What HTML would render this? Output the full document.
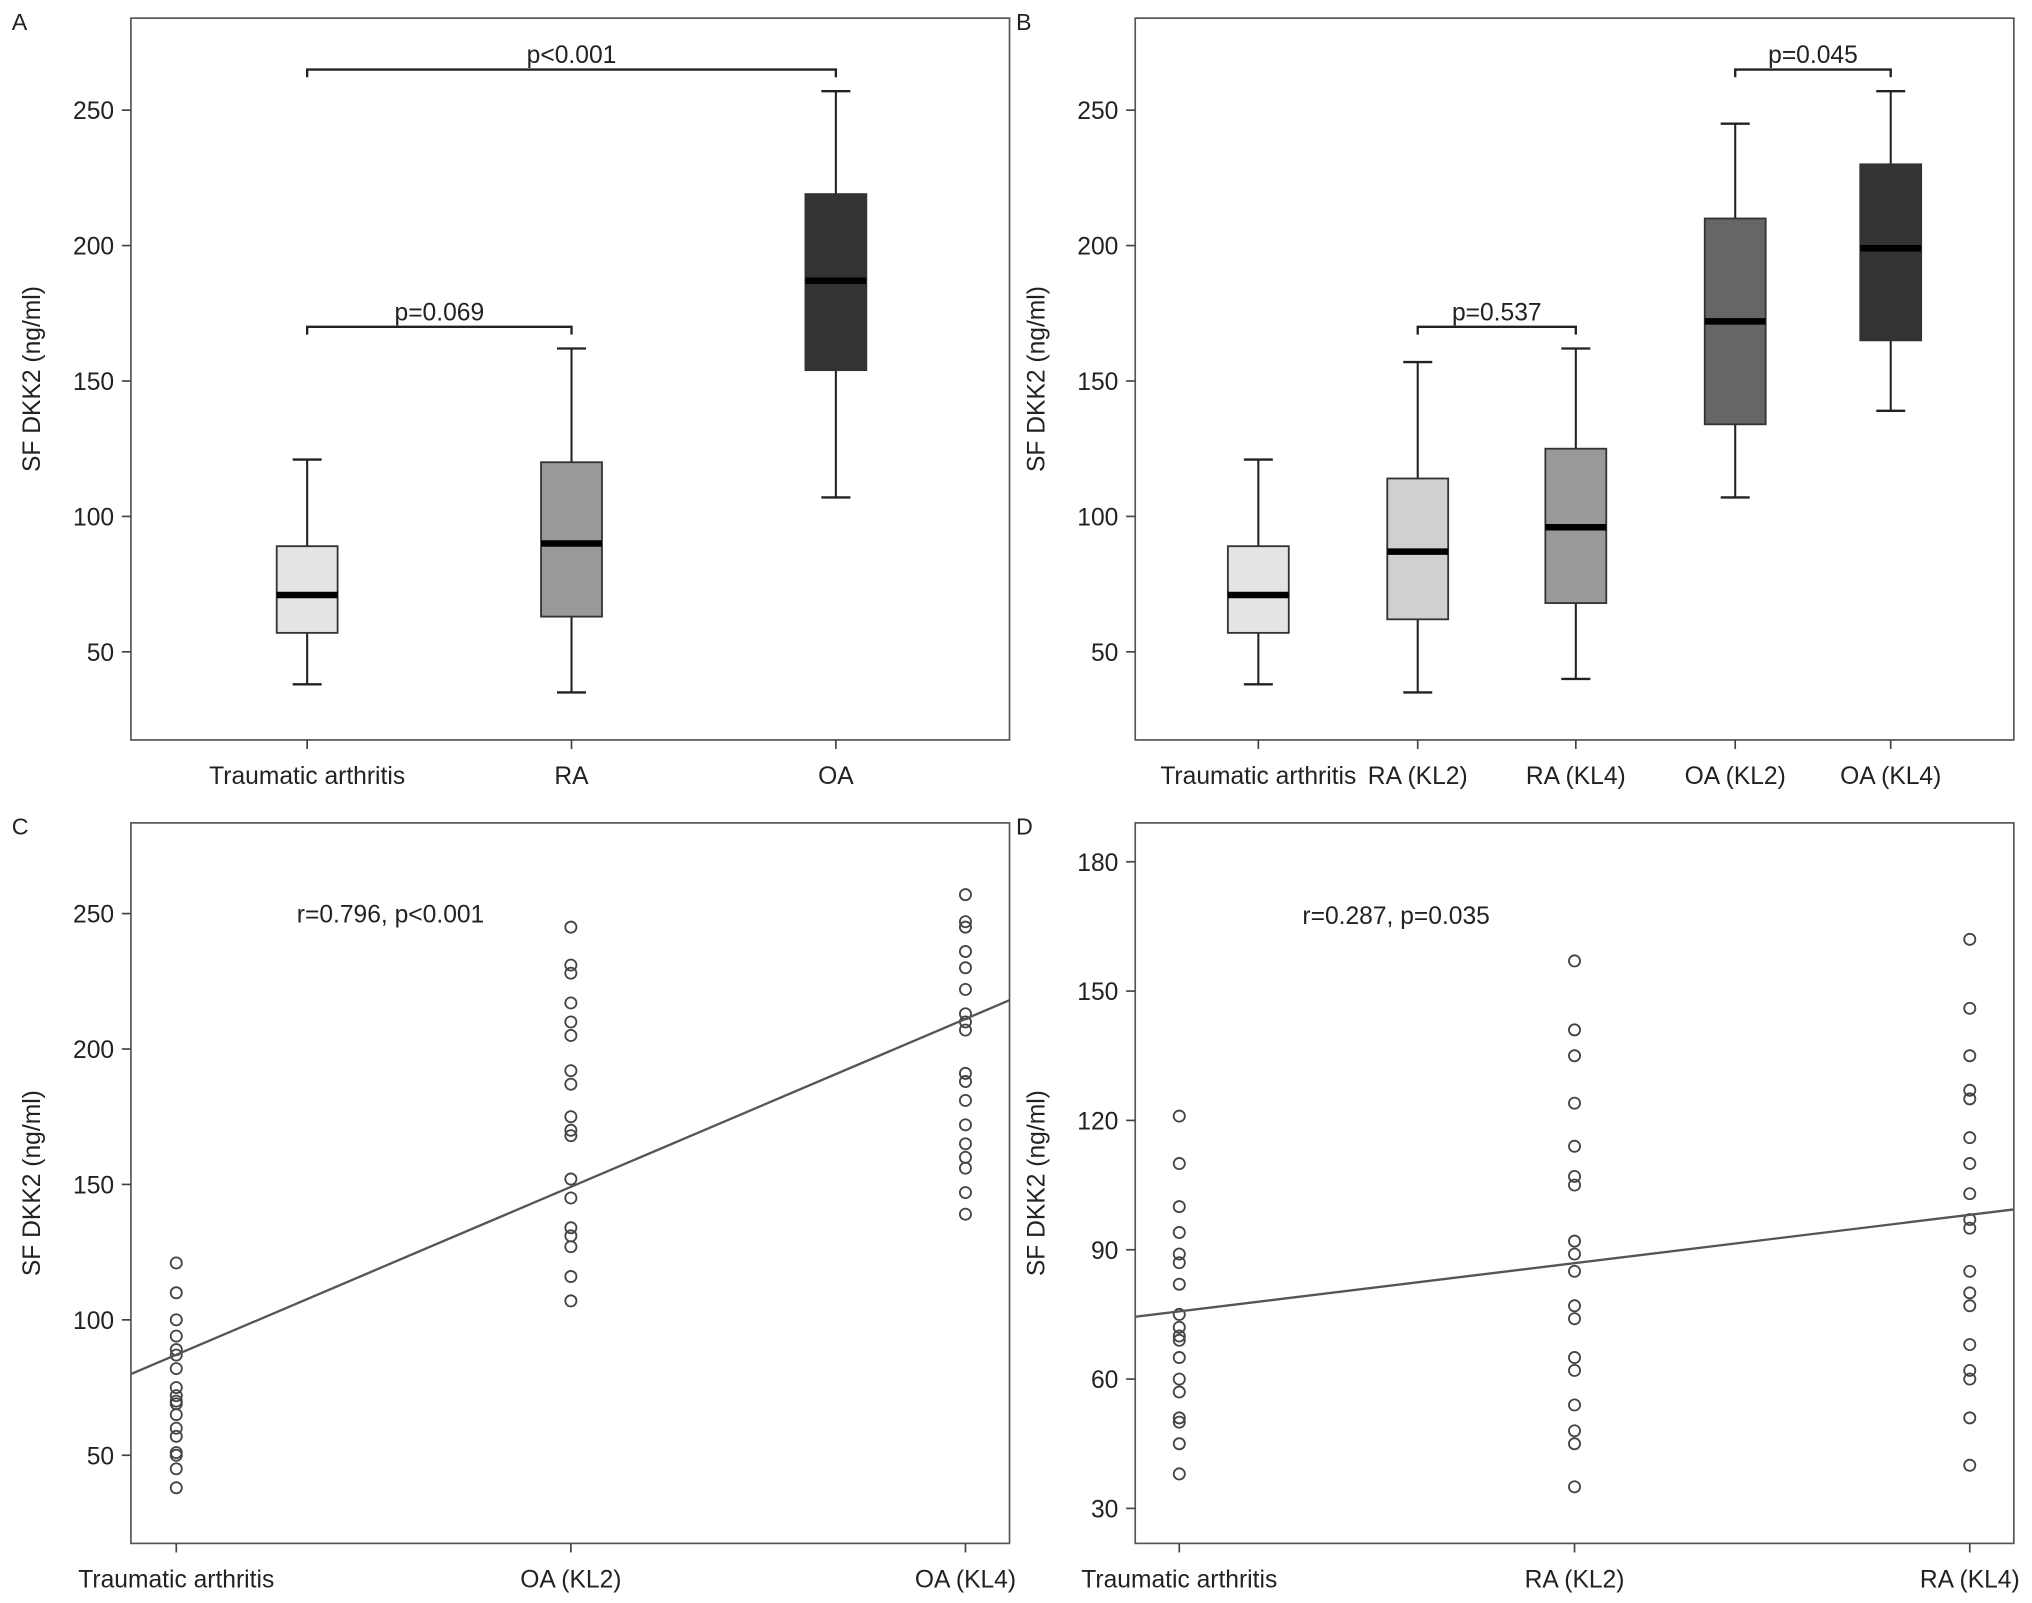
<!DOCTYPE html>
<html><head><meta charset="utf-8"><style>
html,body{margin:0;padding:0;background:#fff;}
svg{display:block;font-family:"Liberation Sans",sans-serif;}
</style></head><body>
<svg id="fig" width="2032" height="1603" viewBox="0 0 1568 1237"></svg>
<script>
// Panel A data
const catsA = ["Traumatic arthritis","RA","OA"];
const whiskLoA = [38,35,107];
const q1A = [57,63,154];
const medA = [71,90,187];
const q3A = [89,120,219];
const whiskHiA = [121,162,257];
const fillA = ["#e4e4e4","#999999","#333333"];
// Panel B data
const catsB = ["Traumatic arthritis","RA (KL2)","RA (KL4)","OA (KL2)","OA (KL4)"];
const whiskLoB = [38,35,40,107,139];
const q1B = [57,62,68,134,165];
const medB = [71,87,96,172,199];
const q3B = [89,114,125,210,230];
const whiskHiB = [121,157,162,245,257];
const fillB = ["#e4e4e4","#d0d0d0","#999999","#666666","#333333"];
const ticks250 = [50,100,150,200,250];
// Panel C data
const catsC = ["Traumatic arthritis","OA (KL2)","OA (KL4)"];
const ptsC0 = [121,110,100,94,89,87,82,75,72,70,69,65,60,57,51,50,45,38];
const ptsC1 = [245,231,228,217,210,205,192,187,175,170,168,152,145,134,131,127,116,107];
const ptsC2 = [257,247,245,236,230,222,213,210,207,191,188,181,172,165,160,156,147,139];
const fitC = [87.1,62]; // intercept, slope per category
// Panel D data
const catsD = ["Traumatic arthritis","RA (KL2)","RA (KL4)"];
const ptsD0 = [121,110,100,94,89,87,82,75,72,70,69,65,60,57,51,50,45,38];
const ptsD1 = [157,141,135,124,114,107,105,92,89,85,77,74,65,62,54,48,45,35];
const ptsD2 = [162,146,135,127,125,116,110,103,97,95,85,80,77,68,62,60,51,40];
const fitD = [75.7,11.2];
const ticksD = [30,60,90,120,150,180];

const NS="http://www.w3.org/2000/svg";
const svg=document.getElementById('fig');
const FS=19;
function mk(tag,attrs,parent,text){const e=document.createElementNS(NS,tag);for(const k in attrs)e.setAttribute(k,attrs[k]);if(text!==undefined)e.textContent=text;(parent||svg).appendChild(e);return e;}

function panel(letter,L,R,T,B,yv1,yp1,yv2,yp2,ticks,cats,cx){
  const g=mk('g',{});
  
  
  const y=v=>yp1+(v-yv1)*(yp2-yp1)/(yv2-yv1);
  const lab=mk('text',{x:L-92,y:T+9,'font-size':18,fill:'#222'},g,letter);
  
  
  const fr=mk('rect',{x:L,y:T,width:R-L,height:B-T,fill:'none',stroke:'#555','stroke-width':1.3},g);
  
  
  ticks.forEach(t=>{
    mk('line',{x1:L-7,x2:L,y1:y(t),y2:y(t),stroke:'#444','stroke-width':1.3},g);
    const tl=mk('text',{x:L-13,y:y(t)+7,'font-size':FS,'text-anchor':'end',fill:'#222'},g,t);
    
    
  });
  cats.forEach((c,i)=>{
    mk('line',{x1:cx(i),x2:cx(i),y1:B,y2:B+7,stroke:'#444','stroke-width':1.3},g);
    const xl=mk('text',{x:cx(i),y:B+34,'font-size':FS,'text-anchor':'middle',fill:'#222'},g,c);
    
    
  });
  const yt=mk('text',{x:0,y:0,'font-size':FS,'text-anchor':'middle',fill:'#222',transform:`translate(${L-70},${(T+B)/2}) rotate(-90)`},g,'SF DKK2 (ng/ml)');
  
  
  return {g,y};
}
function boxes(p,cx,lo,q1,md,q3,hi,fill){
  lo.forEach((_,i)=>{
    const x=cx(i),w=47,h=16;
    const bg=mk('g',{},p.g);
    
    
    mk('line',{x1:x,x2:x,y1:p.y(hi[i]),y2:p.y(q3[i]),stroke:'#222','stroke-width':1.6},bg);
    mk('line',{x1:x,x2:x,y1:p.y(q1[i]),y2:p.y(lo[i]),stroke:'#222','stroke-width':1.6},bg);
    mk('line',{x1:x-h/2*1.4,x2:x+h/2*1.4,y1:p.y(hi[i]),y2:p.y(hi[i]),stroke:'#222','stroke-width':1.8},bg);
    mk('line',{x1:x-h/2*1.4,x2:x+h/2*1.4,y1:p.y(lo[i]),y2:p.y(lo[i]),stroke:'#222','stroke-width':1.8},bg);
    mk('rect',{x:x-w/2,y:p.y(q3[i]),width:w,height:p.y(q1[i])-p.y(q3[i]),fill:fill[i],stroke:'#333','stroke-width':1.4},bg);
    mk('line',{x1:x-w/2,x2:x+w/2,y1:p.y(md[i]),y2:p.y(md[i]),stroke:'#000','stroke-width':5},bg);
  });
}
function bracket(p,x1,x2,v,txt){
  const yy=p.y(v);
  const bg=mk('g',{},p.g);
  
  
  mk('path',{d:`M${x1},${yy+6}V${yy}H${x2}V${yy+6}`,fill:'none',stroke:'#222','stroke-width':1.8},bg);
  mk('text',{x:(x1+x2)/2,y:yy-5,'font-size':FS,'text-anchor':'middle',fill:'#222'},bg,txt);
}
function scatter(p,cx,sets,fit,L,R,label,lx,ly){
  sets.forEach((s,i)=>s.forEach(v=>{
    const c=mk('circle',{cx:cx(i),cy:p.y(v),r:4.3,fill:'none',stroke:'#444','stroke-width':1.4},p.g);
    
    
  }));
  const sp=cx(1)-cx(0);
  const iL=(L-cx(0))/sp,iR=(R-cx(0))/sp;
  const ln=mk('line',{x1:L,x2:R,y1:p.y(fit[0]+fit[1]*iL),y2:p.y(fit[0]+fit[1]*iR),stroke:'#555','stroke-width':1.8},p.g);
  
  
  const t=mk('text',{x:lx,y:ly,'font-size':FS,fill:'#222'},p.g,label);
  
  
}
// A
const cxA=i=>[237,441,645][i];
const pA=panel('A',101,779,14,571,250,85,50,503,ticks250,catsA,cxA);
boxes(pA,cxA,whiskLoA,q1A,medA,q3A,whiskHiA,fillA);
bracket(pA,cxA(0),cxA(2),265,'p<0.001');
bracket(pA,cxA(0),cxA(1),170,'p=0.069');
// B
const cxB=i=>[971,1094,1216,1339,1459][i];
const pB=panel('B',876,1554,14,571,250,85,50,503,ticks250,catsB,cxB);
boxes(pB,cxB,whiskLoB,q1B,medB,q3B,whiskHiB,fillB);
bracket(pB,cxB(1),cxB(2),170,'p=0.537');
bracket(pB,cxB(3),cxB(4),265,'p=0.045');
// C
const cxC=i=>136+i*304.5;
const pC=panel('C',101,779,635,1191,250,705,50,1123,ticks250,catsC,cxC);
scatter(pC,cxC,[ptsC0,ptsC1,ptsC2],fitC,101,779,'r=0.796, p<0.001',229,712);
// D
const cxD=i=>910+i*305;
const pD=panel('D',876,1554,635,1191,180,665,30,1164,ticksD,catsD,cxD);
scatter(pD,cxD,[ptsD0,ptsD1,ptsD2],fitD,876,1554,'r=0.287, p=0.035',1005,713);
</script>
</body></html>
